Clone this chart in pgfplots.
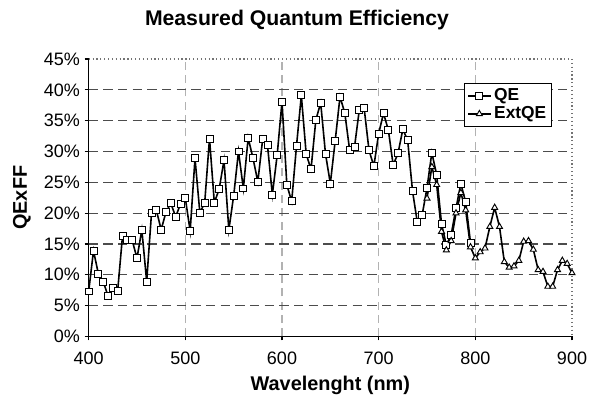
\documentclass[border=0pt]{standalone}
\usepackage{pgfplots}
\pgfplotsset{compat=1.18}
\usepackage{fontspec}
\setmainfont{Liberation Sans}
\begin{document}
\begin{tikzpicture}
\begin{axis}[
  name=ax,
  scale only axis,
  width=362.5pt, height=208.1pt,
  xmin=400, xmax=900, ymin=0, ymax=45,
  xtick={400,500,...,900},
  ytick={0,5,...,45},
  yticklabels={0\%,5\%,10\%,15\%,20\%,25\%,30\%,35\%,40\%,45\%},
  /pgf/number format/assume math mode=true,
  xticklabel style={font=\fontsize{13.5}{16}\selectfont, yshift=-5pt},
  yticklabel style={font=\fontsize{13.5}{16}\selectfont},
  axis x line*=bottom, axis y line*=left,
  axis line style={-, black, line width=0.9pt},
  tick align=outside, major tick length=3pt,
  tick style={black, line width=0.8pt},
  extra y ticks={5,10,...,40},
  extra y tick labels={},
  extra y tick style={grid=major, major tick length=0pt},
  extra x ticks={500,600,700,800},
  extra x tick labels={},
  extra x tick style={grid=major, major tick length=0pt},
  y grid style={dash pattern=on 7pt off 4pt, black!70, line width=0.8pt},
  x grid style={dash pattern=on 6pt off 4pt, black!30, line width=0.8pt},
  title={Measured Quantum Efficiency},
  title style={font=\bfseries\fontsize{15.9}{18}\selectfont, at={(0.431,1.093)}, anchor=base},
  xlabel={Wavelenght (nm)},
  xlabel style={font=\bfseries\fontsize{14.9}{17}\selectfont, at={(0.5,-0.175)}, anchor=center},
  ylabel={QExFF},
  ylabel style={font=\bfseries\fontsize{14.9}{17}\selectfont, at={(-0.138,0.5)}, anchor=center},
  legend style={at={(0.9586,0.9135)}, anchor=north east, draw=black, line width=0.6pt,
    font=\bfseries\fontsize{13}{15}\selectfont, inner sep=2pt, row sep=-1pt},
  legend cell align=left,
  clip=false,
]
\draw[dotted, black!55, line width=0.9pt] (rel axis cs:0,1) -- (rel axis cs:1,1) -- (rel axis cs:1,0);
\addplot[black, line width=1.2pt, mark=square*, mark size=2.6pt, mark options={fill=white, draw=black, solid, line width=0.7pt}] coordinates {
(400,7.3) (405,13.9) (410,10.2) (415,8.9) (420,6.6) (425,7.8) (430,7.4) (435,16.3)
(440,15.6) (445,15.6) (450,12.7) (455,17.3) (460,8.9) (465,20.0) (470,20.5) (475,17.3)
(480,20.2) (485,21.6) (490,19.4) (495,21.5) (500,22.4) (505,17.1) (510,28.9) (515,20.1)
(520,21.6) (525,32.1) (530,21.7) (535,23.9) (540,28.6) (545,17.3) (550,22.8) (555,30.0)
(560,24.0) (565,32.2) (570,28.9) (575,25.1) (580,32.0) (585,31.0) (590,23.0) (595,29.4)
(600,38.1) (605,24.6) (610,21.9) (615,30.9) (620,39.1) (625,29.6) (630,27.1) (635,35.1)
(640,37.9) (645,29.6) (650,24.8) (655,31.7) (660,38.9) (665,36.2) (670,30.2) (675,30.7)
(680,36.8) (685,37.0) (690,30.2) (695,27.6) (700,32.9) (705,36.2) (710,33.5) (715,27.8)
(720,29.7) (725,33.6) (730,31.8) (735,23.6) (740,18.5) (745,19.7) (750,24.1) (755,29.8)
(760,26.2) (765,18.3) (770,14.8) (775,16.5) (780,20.8) (785,24.8) (790,21.8) (795,15.2)
};
\addlegendentry{QE}
\addplot[black, line width=1.2pt, mark=triangle*, mark size=2.6pt, mark options={fill=white, draw=black, solid, line width=0.7pt}] coordinates {
(750,22.4) (755,27.5) (760,24.6) (765,17.0) (770,14.0) (775,15.5) (780,20.0) (785,23.3)
(790,20.5) (795,14.5) (800,12.7) (805,13.7) (810,14.3) (815,17.8) (820,20.9) (825,17.8)
(830,12.1) (835,11.2) (840,11.4) (845,12.3) (850,15.4) (855,15.5) (860,14.1) (865,10.8)
(870,10.5) (875,8.1) (880,8.1) (885,10.8) (890,12.3) (895,11.8) (900,10.3)
};
\addlegendentry{ExtQE}
\end{axis}
\pgfresetboundingbox
\path[use as bounding box] ([shift={(-66.5pt,-45.4pt)}]ax.south west) rectangle ([shift={(13.5pt,44.25pt)}]ax.north east);
\end{tikzpicture}
\end{document}
